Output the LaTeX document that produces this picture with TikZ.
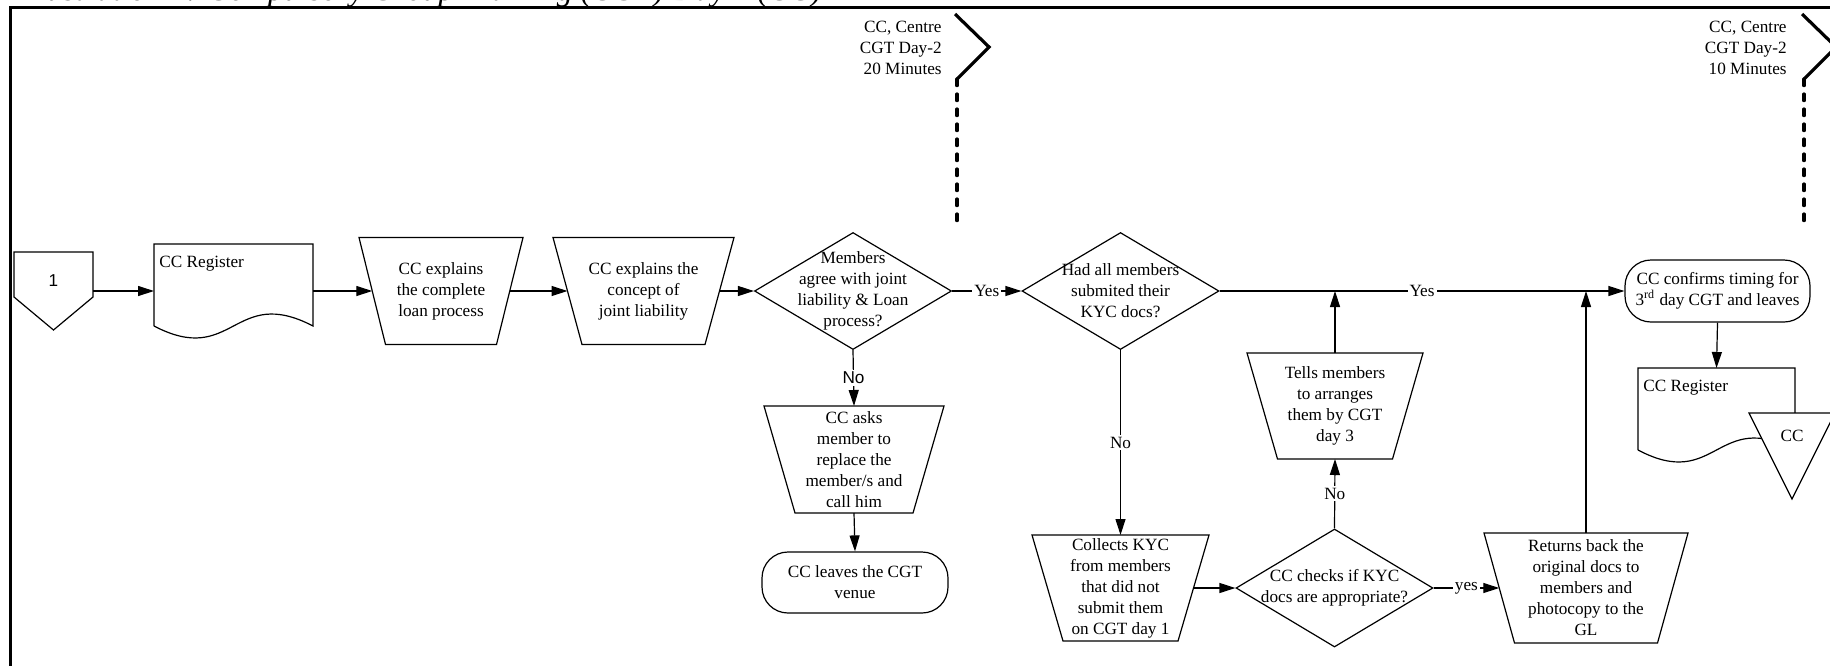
\documentclass[tikz,border=0pt]{standalone}
\usepackage{fontspec}
\setmainfont{Liberation Serif}
\setsansfont{Liberation Sans}
\usetikzlibrary{calc,shapes.geometric,arrows.meta}

% outline of a process box, wider on top
\newcommand{\trapline}[2]{%
	\draw[outline] ($(#1.north west)+(-#2,0)$) -- ($(#1.north east)+(#2,0)$)
		-- ($(#1.south east)+(-#2,0)$) -- ($(#1.south west)+(#2,0)$) -- cycle;}
% outline of a document
\newcommand{\docline}[1]{%
	\draw[outline] ($(#1.north west)+(0,82)$) -- (#1.north west) -- (#1.north east)
		-- ($(#1.north east)+(0,82)$) .. controls ($(#1.north)+(0,40.5)$)
		and ($(#1.north)+(0,123.5)$) .. ($(#1.north west)+(0,82)$);}

\begin{document}
\begin{tikzpicture}[x=0.5pt,y=-0.5pt,
	every node/.style={font=\fontsize{8.6}{10.5}\selectfont},
	outline/.style={line width=0.6pt},
	flow/.style={line width=0.6pt,-{Triangle[length=8pt,width=5pt]}},
	box/.style={rectangle,inner sep=0pt,outer sep=0pt,align=center},
	decision/.style={diamond,draw,line width=0.6pt,inner sep=0pt,minimum width=98.5pt,minimum height=58.5pt},
	term/.style={rectangle,draw,line width=0.6pt,rounded corners=13pt,align=center,inner sep=0pt,minimum width=92.5pt,minimum height=31pt},
	lbl/.style={fill=white,inner sep=1pt},
	sans/.style={font=\fontsize{8.6}{10.5}\sffamily},
	marker/.style={line width=1.6pt},
	lane/.style={line width=1.6pt,line cap=round,dash pattern=on 3.3pt off 4.2pt}]

	\useasboundingbox (0,0) rectangle (1830,665);
	\clip (0,0) rectangle (1830,665);

	% title and frame
	\node[anchor=base west,inner sep=0pt,font=\fontsize{16}{18}\selectfont\itshape] (title) at (18,0.5)
		{Illustration 4: Compulsory Group Training (CGT) Day 2 (CC)};
	\draw[line width=1.4pt] (10.5,700) -- (10.5,7.5) -- (1900,7.5);

	% time markers
	\node[anchor=east,align=right,inner sep=0pt] (mk1) at (942,48) {CC, Centre\\CGT Day-2\\20 Minutes};
	\draw[marker] (955,14) -- (989,47) -- (957,79);
	\draw[lane] (957,79) -- (957,227);

	\node[anchor=east,align=right,inner sep=0pt] (mk2) at (1787,48) {CC, Centre\\CGT Day-2\\10 Minutes};
	\draw[marker] (1802,14) -- (1836,47) -- (1804,79);
	\draw[lane] (1804,79) -- (1804,227);

	% shapes
	\node[box,minimum width=39.5pt,minimum height=39pt] (pg) at (53.5,291) {};
	\draw[outline] (pg.north west) -- (pg.north east) -- ($(pg.south east)+(0,-33)$)
		-- (pg.south) -- ($(pg.south west)+(0,-33)$) -- cycle;
	\node[sans] (pgt) at (53.5,281) {1};

	\node[box,minimum width=79.5pt,minimum height=47pt] (doc1) at (233.5,291) {};
	\docline{doc1}
	\node[anchor=base west,inner sep=0pt] (doc1t) at ($(doc1.north west)+(5,23)$) {CC Register};

	\node[box,minimum width=68.75pt,minimum height=53.5pt] (expl) at (441,291)
		{CC explains\\the complete\\loan process};
	\trapline{expl}{13.25}

	\node[box,minimum width=76pt,minimum height=53.5pt] (joint) at (643.5,291)
		{CC explains the\\concept of\\joint liability};
	\trapline{joint}{14.5}

	\node[decision] (agree) at (853,291) {};
	\node[box] (agreet) at (agree) {Members\\agree with joint\\liability \& Loan\\process?};

	\node[decision] (kyc) at (1120.5,291) {};
	\node[box] (kyct) at (kyc) {Had all members\\submited their\\KYC docs?};

	\node[box,minimum width=74.5pt,minimum height=53.5pt] (replace) at (854,459.5)
		{CC asks\\member to\\replace the\\member/s and\\call him};
	\trapline{replace}{15.5}

	\node[term,minimum width=93pt,minimum height=30.5pt] (leave) at (855,582.5) {CC leaves the CGT\\venue};

	\node[box,minimum width=73pt,minimum height=53pt] (collect) at (1120.5,588)
		{Collects KYC\\from members\\that did not\\submit them\\on CGT day 1};
	\trapline{collect}{15.5}

	\node[decision,minimum height=59pt] (check) at (1334.5,588) {};
	\node[box] (checkt) at (check) {CC checks if KYC\\docs are appropriate?};

	\node[box,minimum width=72.75pt,minimum height=53pt] (arrange) at (1335,406)
		{Tells members\\to arranges\\them by CGT\\day 3};
	\trapline{arrange}{15.25}

	\node[box,minimum width=86.75pt,minimum height=55pt] (return) at (1586,588)
		{Returns back the\\original docs to\\members and\\photocopy to the\\GL};
	\trapline{return}{15.25}

	\node[term] (confirm) at (1717.5,291) {CC confirms timing for\\3\textsuperscript{rd} day CGT and leaves};

	\node[box,minimum width=78.5pt,minimum height=47pt] (doc2) at (1716.5,415) {};
	\docline{doc2}
	\node[anchor=base west,inner sep=0pt] (doc2t) at ($(doc2.north west)+(5,23)$) {CC Register};
	\draw[outline,fill=white] (1749,413) -- (1835,413) -- (1792,499) -- cycle;
	\node (cct) at (1792,436) {CC};

	% connectors
	\draw[flow] (pg.east) -- (doc1.west);
	\draw[flow] (doc1.east) -- (expl.west);
	\draw[flow] (expl.east) -- (joint.west);
	\draw[flow] (joint.east) -- (agree.west);
	\draw[flow] (agree.east) -- node[lbl] {Yes} (kyc.west);
	\draw[flow] (kyc.east) -- node[lbl] {Yes} (confirm.west);
	\draw[flow] (agree.south) -- node[lbl,sans] {No} (replace.north);
	\draw[flow] (replace.south) -- (leave.north);
	\draw[flow] (kyc.south) -- node[lbl] {No} (collect.north);
	\draw[flow] (collect.east) -- (check.west);
	\draw[flow] (check.north) -- node[lbl] {No} (arrange.south);
	\draw[flow] (check.east) -- node[lbl] {yes} (return.west);
	\draw[flow] (arrange.north) -- (arrange.north |- kyc.east);
	\draw[flow] (return.north) -- (return.north |- kyc.east);
	\draw[flow] (confirm.south) -- (doc2.north);

\end{tikzpicture}
\end{document}
